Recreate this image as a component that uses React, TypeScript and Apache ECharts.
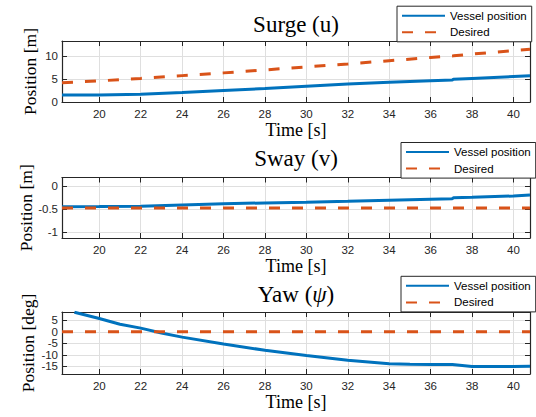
import React, { useEffect, useRef } from "react";
import * as echarts from "echarts";

// ---- data ----
const surgeTime = [18.2, 20, 22, 24, 26, 28, 30, 32, 34, 36, 37.05, 37.1, 38, 40, 40.8];
const surgeVessel = [1.5, 1.55, 1.7, 2.05, 2.5, 2.95, 3.45, 3.9, 4.3, 4.65, 4.8, 4.95, 5.15, 5.55, 5.7];
const surgeDesired = [4.2, 4.6, 5.15, 5.75, 6.35, 7.0, 7.65, 8.3, 9.0, 9.7, 10.05, 10.07, 10.45, 11.2, 11.5];

const swayTime = [18.2, 20, 22, 24, 26, 28, 30, 32, 34, 36, 37.05, 37.1, 38, 40, 40.8];
const swayVessel = [-0.455, -0.45, -0.44, -0.415, -0.39, -0.37, -0.355, -0.335, -0.31, -0.29, -0.28, -0.26, -0.25, -0.22, -0.2];
const swayDesired = [-0.48, -0.48, -0.48, -0.48, -0.48, -0.48, -0.48, -0.48, -0.48, -0.48, -0.48, -0.48, -0.48, -0.48, -0.48];

const yawTime = [18.8, 20, 21, 22, 23, 24, 26, 28, 30, 32, 34, 35, 36, 37.05, 38, 40, 40.8];
const yawVessel = [8.5, 5.8, 3.3, 1.6, -0.5, -2.3, -5.3, -8.0, -10.3, -12.3, -13.9, -14.1, -14.15, -14.2, -15.0, -15.0, -14.9];
const yawDesiredTime = [18.2, 40.8];
const yawDesired = [0, 0];

const timeRange = [18.2, 40.8];
const timeStep = 2;
const yRanges = [
  [0, 13.3],
  [-1.13, 0.18],
  [-18.3, 8.6],
];
const ySteps = [5, 0.5, 5];
const titles = ["Surge (u)", "Sway (v)", "Yaw ({i|ψ})"];
const yNames = ["Position [m]", "Position [m]", "Position [deg]"];
const seriesNames = ["Vessel position", "Desired"];

// ---- layout / style ----
const gridTops = [41, 177.5, 312];
const gridHeights = [61, 60.5, 62];
const titleY = [24, 158, 294.5];
const legendTops = [6.2, 142.5, 276.3];
const legendLefts = [397, 401, 401];
const yNameGaps = [23, 27, 25];
const AX = "#262626";
const GRIDC = "#dfdfdf";
const BLUE = "#0072BD";
const ORANGE = "#D95319";
const SERIF = '"Liberation Serif", "Times New Roman", serif';
const SANS = '"Liberation Sans", Arial, sans-serif';

const pairs = (t: number[], v: number[]) => t.map((x, i) => [x, v[i]]);
const isMult = (v: number, s: number) => Math.abs(v / s - Math.round(v / s)) < 1e-6;

export default function App() {
  const ref = useRef<HTMLDivElement>(null);
  useEffect(() => {
    if (!ref.current) return;
    const chart = echarts.init(ref.current, undefined, { renderer: "svg" });

    const grids: any[] = [];
    const xAxes: any[] = [];
    const yAxes: any[] = [];
    const series: any[] = [];
    const legends: any[] = [];
    const graphics: any[] = [];
    const datasets = [
      [surgeTime, surgeVessel, surgeTime, surgeDesired],
      [swayTime, swayVessel, swayTime, swayDesired],
      [yawTime, yawVessel, yawDesiredTime, yawDesired],
    ];

    for (let g = 0; g < 3; g++) {
      grids.push({ left: 62, right: 6, top: gridTops[g], height: gridHeights[g], containLabel: false });
    }
    const axisLine = { show: true, onZero: false, lineStyle: { color: AX, width: 1.2 } };
    const axisTick = { show: true, inside: true, length: 5, lineStyle: { color: AX, width: 1 } };
    for (const pos of ["bottom", "top"]) {
      for (let g = 0; g < 3; g++) {
        const main = pos === "bottom";
        xAxes.push({
          type: "value",
          gridIndex: g,
          position: pos,
          min: timeRange[0],
          max: timeRange[1],
          minInterval: timeStep,
          maxInterval: timeStep,
          axisLine,
          axisTick,
          axisLabel: {
            show: main,
            margin: 5,
            color: AX,
            fontFamily: SANS,
            fontSize: 11.5,
            fontWeight: "normal",
            lineHeight: 13,
            formatter: (v: number) => (isMult(v, timeStep) ? String(v) : ""),
          },
          splitLine: { show: main, lineStyle: { color: GRIDC, width: 1 } },
          name: main ? "Time [s]" : "",
          nameLocation: "middle",
          nameGap: 21,
          nameMoveOverlap: false,
          nameTextStyle: { fontFamily: SERIF, fontSize: 18, fontWeight: "normal", color: "#000", lineHeight: 14 },
        });
      }
    }
    for (const pos of ["left", "right"]) {
      for (let g = 0; g < 3; g++) {
        const main = pos === "left";
        yAxes.push({
          type: "value",
          gridIndex: g,
          position: pos,
          min: yRanges[g][0],
          max: yRanges[g][1],
          minInterval: ySteps[g],
          maxInterval: ySteps[g],
          axisLine,
          axisTick,
          axisLabel: {
            show: main,
            margin: 4,
            color: AX,
            fontFamily: SANS,
            fontSize: 11.5,
            fontWeight: "normal",
            formatter: (v: number) => (isMult(v, ySteps[g]) ? String(Math.round(v * 10) / 10) : ""),
          },
          splitLine: { show: main, lineStyle: { color: GRIDC, width: 1 } },
          name: main ? yNames[g] : "",
          nameLocation: "middle",
          nameGap: yNameGaps[g],
          nameMoveOverlap: false,
          nameRotate: 90,
          nameTextStyle: { fontFamily: SERIF, fontSize: 17.5, fontWeight: "normal", color: "#000" },
        });
      }
    }
    for (let g = 0; g < 3; g++) {
      const [t, v, td, d] = datasets[g];
      series.push({
        type: "line",
        name: seriesNames[0],
        xAxisIndex: g,
        yAxisIndex: g,
        data: pairs(t, v),
        showSymbol: false,
        symbol: "none",
        clip: true,
        lineStyle: { color: BLUE, width: 3 },
        itemStyle: { color: BLUE },
      });
      series.push({
        type: "line",
        name: seriesNames[1],
        xAxisIndex: g,
        yAxisIndex: g,
        data: pairs(td, d),
        showSymbol: false,
        symbol: "none",
        clip: true,
        lineStyle: { color: ORANGE, width: 3, type: [11, 12] },
        itemStyle: { color: ORANGE },
      });
      legends.push({
        data: seriesNames,
        orient: "vertical",
        left: legendLefts[g],
        top: legendTops[g],
        padding: [3, 5, 3, 4],
        itemGap: 3.6,
        itemWidth: 43,
        itemHeight: 12,
        selectedMode: false,
        backgroundColor: "#fff",
        borderColor: AX,
        borderWidth: 1,
        itemStyle: { opacity: 0, borderWidth: 0 },
        textStyle: { fontFamily: SANS, fontSize: 11.5, fontWeight: "normal", color: "#000", lineHeight: 13 },
      });
      graphics.push({
        type: "text",
        x: 296,
        y: titleY[g],
        style: {
          text: titles[g],
          fontFamily: SERIF,
          fontSize: 23,
          fontWeight: "normal",
          fill: "#000",
          textAlign: "center",
          textVerticalAlign: "middle",
          rich: {
            i: { fontStyle: "italic", fontSize: 23, fontWeight: "normal", fontFamily: SERIF, fill: "#000" },
          },
        },
      });
    }

    chart.setOption({
      animation: false,
      backgroundColor: "#fff",
      grid: grids,
      xAxis: xAxes,
      yAxis: yAxes,
      series,
      legend: legends,
      graphic: graphics,
    });
    return () => chart.dispose();
  }, []);
  return <div ref={ref} style={{ position: "absolute", left: 0, top: 0, width: 536, height: 417 }} />;
}
